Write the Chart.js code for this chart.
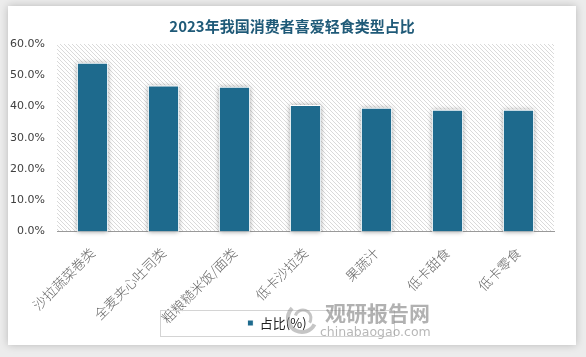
<!DOCTYPE html>
<html><head><meta charset="utf-8">
<script src="https://cdn.jsdelivr.net/npm/chart.js@4.4.1/dist/chart.umd.min.js"></script>
<style>html,body{margin:0;padding:0;background:#eeeeee;overflow:hidden}</style>
</head><body>
<canvas id="c" width="586" height="357"></canvas>
<script>
const titleText = '2023年我国消费者喜爱轻食类型占比';
const categories = ['沙拉蔬菜卷类', '全麦夹心吐司类', '粗粮糙米饭/面类', '低卡沙拉类', '果蔬汁', '低卡甜食', '低卡零食'];
const shareValues = [54.0, 46.7, 46.3, 40.5, 39.6, 39.0, 39.0];
const seriesName = '占比(%)';
const yMin = 0, yMax = 60, yStep = 10;
const watermarkCn = '观研报告网';
const watermarkEn = 'chinabaogao.com';

const barColor = '#1e6a8d';

function makeHatch() {
  const t = document.createElement('canvas');
  t.width = 4; t.height = 4;
  const g = t.getContext('2d');
  g.fillStyle = '#ffffff'; g.fillRect(0, 0, 4, 4);
  g.fillStyle = '#dadada';
  for (let i = 0; i < 4; i++) g.fillRect(i, i, 1, 1);
  return t;
}

const decor = {
  id: 'decor',
  beforeDraw(chart) {
    const ctx = chart.ctx, W = chart.width, H = chart.height;
    ctx.save();
    ctx.fillStyle = '#ececec';
    ctx.fillRect(0, 0, W, H);
    ctx.shadowColor = 'rgba(0,0,0,0.22)';
    ctx.shadowBlur = 8;
    ctx.fillStyle = '#ffffff';
    ctx.fillRect(8, 6, 568, 339);
    ctx.restore();
    const a = chart.chartArea;
    ctx.save();
    ctx.fillStyle = ctx.createPattern(makeHatch(), 'repeat');
    ctx.fillRect(a.left, a.top, a.right - a.left, a.bottom - a.top);
    ctx.restore();
    ctx.save();
    ctx.font = 'bold 15px "Noto Sans CJK SC"';
    ctx.fillStyle = '#1f5a78';
    ctx.textAlign = 'center';
    ctx.textBaseline = 'middle';
    ctx.fillText(titleText, 292, 26);
    ctx.restore();
  },
  beforeDatasetsDraw(chart) {
    const ctx = chart.ctx;
    const meta = chart.getDatasetMeta(0);
    ctx.save();
    ctx.shadowColor = 'rgba(0,0,0,0.45)';
    ctx.shadowBlur = 5;
    ctx.fillStyle = '#ffffff';
    meta.data.forEach(b => {
      const p = b.getProps(['x', 'y', 'base', 'width'], true);
      ctx.fillRect(p.x - p.width / 2, p.y, p.width, p.base - p.y);
    });
    ctx.restore();
  },
  afterDraw(chart) {
    const ctx = chart.ctx;
    const hb = chart.legend.legendHitBoxes[0];
    if (hb) {
      const cx = hb.left + hb.width / 2, cy = hb.top + hb.height / 2;
      ctx.save();
      ctx.strokeStyle = '#d4d4d4';
      ctx.lineWidth = 1;
      ctx.strokeRect(Math.round(cx - 117) + 0.5, Math.round(cy - 13) + 0.5, 234, 26);
      ctx.restore();
    }
    ctx.save();
    ctx.strokeStyle = 'rgba(150,150,150,0.55)';
    ctx.lineWidth = 4;
    ctx.beginPath(); ctx.arc(302, 318, 14, Math.PI * 0.15, Math.PI * 1.25); ctx.stroke();
    ctx.lineWidth = 3;
    ctx.beginPath(); ctx.arc(303, 318, 8, Math.PI * 1.1, Math.PI * 2.2); ctx.stroke();
    ctx.fillStyle = 'rgba(125,125,125,0.6)';
    ctx.font = 'bold 21px "Noto Sans CJK SC"';
    ctx.textAlign = 'left';
    ctx.textBaseline = 'alphabetic';
    ctx.fillText(watermarkCn, 325, 321);
    ctx.fillStyle = 'rgba(135,135,135,0.6)';
    ctx.font = '12.5px "DejaVu Sans"';
    ctx.fillText(watermarkEn, 320, 336);
    ctx.restore();
  }
};

new Chart(document.getElementById('c'), {
  type: 'bar',
  data: {
    labels: categories,
    datasets: [{
      label: seriesName,
      data: shareValues,
      backgroundColor: barColor,
      borderColor: '#ffffff',
      borderWidth: 1,
      barPercentage: 0.44,
      categoryPercentage: 1
    }]
  },
  options: {
    responsive: false,
    animation: false,
    devicePixelRatio: 1,
    layout: { padding: { top: 44, right: 32, bottom: 17.5, left: 0 } },
    plugins: {
      title: { display: false },
      tooltip: { enabled: false },
      legend: {
        position: 'bottom',
        labels: {
          boxWidth: 6, boxHeight: 6, padding: 10,
          color: '#222222',
          font: { family: '"Noto Sans CJK SC"', size: 13 }
        }
      }
    },
    scales: {
      x: {
        grid: { display: false },
        border: { display: true, color: '#999999', width: 1 },
        ticks: {
          maxRotation: 45, minRotation: 45, autoSkip: false,
          color: '#666666', padding: 5,
          font: { family: '"Noto Sans CJK SC"', size: 13.5, weight: 300 }
        },
        afterFit(s) {
          s.height = 75;
          s._computeLabelArea = () => undefined;
        }
      },
      y: {
        min: yMin, max: yMax,
        grid: { display: false, drawTicks: false },
        border: { display: false },
        ticks: {
          stepSize: yStep, padding: 12, color: '#404040',
          font: { family: '"DejaVu Sans"', size: 11 },
          callback: v => v.toFixed(1) + '%'
        },
        afterFit(s) { s.width = 57; }
      }
    }
  },
  plugins: [decor]
});
</script>
</body></html>
